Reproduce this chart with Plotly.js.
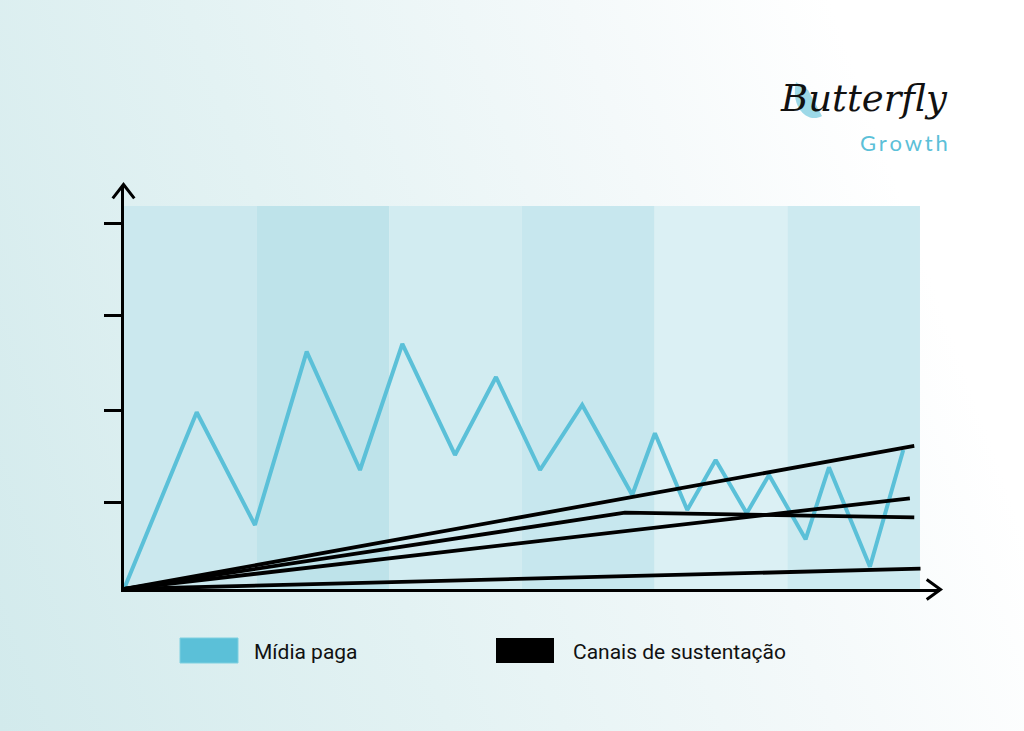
<!DOCTYPE html>
<html>
<head>
<meta charset="utf-8">
<script src="https://cdn.plot.ly/plotly-3.0.1.min.js"></script>
<style>
  html, body { margin:0; padding:0; width:1024px; height:731px; overflow:hidden; }
  body { background: linear-gradient(70deg, #d2eaec 0%, #e3f2f3 35%, #f4f9fa 65%, #ffffff 85%); }
  #chart { width:1024px; height:731px; }
</style>
</head>
<body>
<div id="chart"></div>
<script>
// ---- data ----
const bandCategories = [0, 1, 2, 3, 4, 5];          // six period bands
const bandColors = ['#cbe8ee', '#bee3ea', '#d2ecf1', '#c7e7ee', '#dbf0f4', '#cdeaf0'];

const paidX = [0, 0.548, 0.987, 1.377, 1.779, 2.098, 2.495, 2.804, 3.136, 3.454, 3.831, 4.002, 4.246, 4.460, 4.694, 4.862, 5.138, 5.314, 5.623, 5.874];
const paidY = [0, 1.925, 0.697, 2.585, 1.296, 2.669, 1.460, 2.309, 1.296, 2.004, 1.024, 1.696, 0.861, 1.405, 0.825, 1.242, 0.541, 1.326, 0.243, 1.514];

const channel1X = [0, 5.957];        const channel1Y = [0, 1.558];
const channel2X = [0, 3.776, 5.957]; const channel2Y = [0, 0.831, 0.780];
const channel3X = [0, 5.924];        const channel3Y = [0, 0.988];
const channel4X = [0, 6.004];        const channel4Y = [0, 0.221];

const yTicks = [0.94, 1.94, 2.98, 3.98];
const legendLabels = ['Mídia paga', 'Canais de sustentação'];
const paidColor = '#5bc0d8';
const channelColor = '#000000';

// ---- traces ----
const traces = [];
traces.push({ x: paidX, y: paidY, type: 'scatter', mode: 'lines',
  line: { color: paidColor, width: 4 }, hoverinfo: 'skip', showlegend: false });
[[channel4X, channel4Y], [channel3X, channel3Y], [channel2X, channel2Y], [channel1X, channel1Y]].forEach(function (c) {
  traces.push({ x: c[0], y: c[1], type: 'scatter', mode: 'lines',
    line: { color: channelColor, width: 3.8 }, hoverinfo: 'skip', showlegend: false });
});

// ---- helpers for paper coords from pixel layout ----
const L = 124, W = 816, B = 589, H = 404;
function px(x) { return (x - L) / W; }
function py(y) { return (B - y) / H; }

// ---- shapes ----
const shapes = [];
bandCategories.forEach(function (b, i) {
  shapes.push({ type: 'rect', xref: 'x', yref: 'y', x0: b, x1: b + 1, y0: 0, y1: 4.17,
    fillcolor: bandColors[i], line: { width: 0 }, layer: 'below' });
});
// axis arrow heads
shapes.push({ type: 'path', xref: 'paper', yref: 'paper',
  path: 'M ' + px(112.7) + ',' + py(198.3) + ' L ' + px(123.5) + ',' + py(184.5) + ' L ' + px(134.3) + ',' + py(198.3),
  line: { color: '#000', width: 3 } });
shapes.push({ type: 'path', xref: 'paper', yref: 'paper',
  path: 'M ' + px(926.7) + ',' + py(579.5) + ' L ' + px(940.5) + ',' + py(589.5) + ' L ' + px(926.7) + ',' + py(599.5),
  line: { color: '#000', width: 3 } });
// legend swatches
shapes.push({ type: 'rect', xref: 'paper', yref: 'paper', x0: px(180), x1: px(238),
  y0: py(663), y1: py(638), fillcolor: paidColor, line: { color: '#7fd0e0', width: 1 } });
shapes.push({ type: 'rect', xref: 'paper', yref: 'paper', x0: px(496), x1: px(554),
  y0: py(663), y1: py(638), fillcolor: channelColor, line: { width: 0 } });
// logo wing accent
shapes.push({ type: 'path', xref: 'paper', yref: 'paper',
  path: 'M ' + px(796) + ',' + py(82) + ' C ' + px(790) + ',' + py(108) + ' ' + px(808) + ',' + py(124) + ' ' + px(822) + ',' + py(116) + ' L ' + px(808) + ',' + py(90) + ' Z',
  fillcolor: 'rgba(91,192,216,0.6)', line: { width: 0 } });

// ---- annotations ----
const annotations = [
  { xref: 'paper', yref: 'paper', x: px(252), y: py(652), xanchor: 'left', yanchor: 'middle',
    text: legendLabels[0], showarrow: false, font: { family: 'Roboto', size: 21, color: '#111' } },
  { xref: 'paper', yref: 'paper', x: px(571), y: py(652), xanchor: 'left', yanchor: 'middle',
    text: legendLabels[1], showarrow: false, font: { family: 'Roboto', size: 21, color: '#111' } },
  { xref: 'paper', yref: 'paper', x: px(950), y: py(98), xanchor: 'right', yanchor: 'middle',
    text: 'Butterfly', showarrow: false, font: { family: 'DejaVu Serif', size: 37, color: '#111', style: 'italic' } },
  { xref: 'paper', yref: 'paper', x: px(950), y: py(143), xanchor: 'right', yanchor: 'middle',
    text: 'G\u2009r\u2009o\u2009w\u2009t\u2009h', showarrow: false, font: { family: 'Lato', size: 22, color: paidColor } }
];

const layout = {
  width: 1024, height: 731,
  margin: { l: L, r: 1024 - L - W, t: B - H, b: 731 - B, pad: 0 },
  paper_bgcolor: 'rgba(0,0,0,0)', plot_bgcolor: 'rgba(0,0,0,0)',
  showlegend: false,
  xaxis: { range: [0, 6.151], showgrid: false, zeroline: false, showline: true, linecolor: '#000', linewidth: 3,
    ticks: '', showticklabels: false, fixedrange: true },
  yaxis: { range: [0, 4.4], showgrid: false, zeroline: false, showline: true, linecolor: '#000', linewidth: 3,
    ticks: 'outside', ticklen: 17, tickwidth: 3, tickcolor: '#000', tickmode: 'array', tickvals: yTicks,
    showticklabels: false, fixedrange: true },
  shapes: shapes,
  annotations: annotations
};

Plotly.newPlot('chart', traces, layout, { staticPlot: true, displayModeBar: false });
</script>
</body>
</html>
